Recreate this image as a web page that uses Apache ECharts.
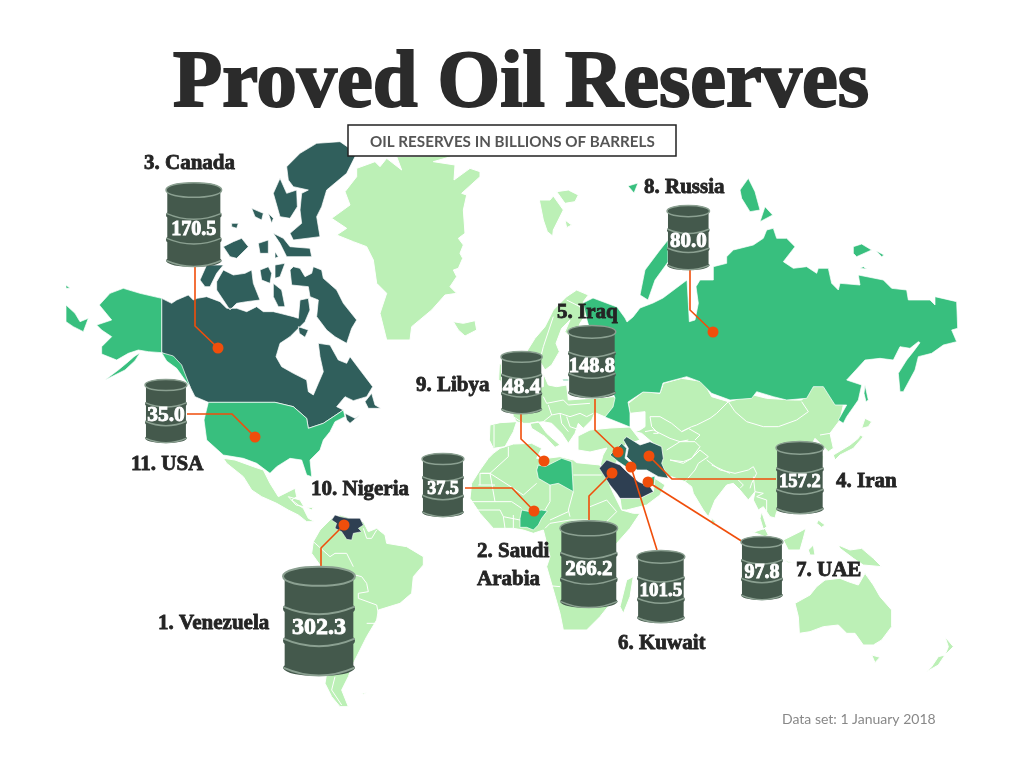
<!DOCTYPE html>
<html><head><meta charset="utf-8">
<style>html,body{margin:0;padding:0;background:#fff}#c{width:1024px;height:771px}</style>
<script src="https://cdn.jsdelivr.net/npm/echarts@6/dist/echarts.min.js"></script>
</head><body><div id="c"></div>
<script>
// ---- chart values ----
const countries = ['Venezuela','Saudi Arabia','Canada','Iran','Iraq','Kuwait','UAE','Russia','Libya','Nigeria','USA'];
const reserves  = [302.3,266.2,170.5,157.2,148.8,101.5,97.8,80.0,48.4,37.5,35.0];
const labelLines = ['1. Venezuela','2. Saudi\nArabia','3. Canada','4. Iran','5. Iraq','6. Kuwait','7. UAE','8. Russia','9. Libya','10. Nigeria','11. USA'];

// ---- layout in map units ----
const barrelCorner = [[283,566],[560,520],[166,182],[776,441],[568,325],[637,550],[741,536],[667,205],[501,351],[422,453],[145,379]];
const barrelHeight = [110,88,85,73,73,73,64,65,63,64,64];
const valueFont    = [24,21,20,18.5,20.5,19,20,21,21.5,18,21.5];
const labelAnchor  = [[158,624],[477,566],[144,164],[836,482],[557,313],[618,644],[796,571],[644,188],[416,386],[311,490],[131,465]];
const leaderStart  = [[321,566],[589,520],[195,267],[776,479],[595,399],[657,550],[743,542],[690,269],[521,414],[465,488],[187,414]];
const leaderElbow  = [[321,548],[589,496],[195,326],[672,479],[595,430],[657,550],[743,542],[690,310],[521,439],[512,488],[232,414]];
const pins         = [[344,525],[612,473],[218,348],[649,456],[618,452],[631,467],[648,482],[713,332],[544,461],[534,511],[255,437]];

// ---- hand traced base map: [originX, originY, "x,y ..." in 3x units] ----
const canadaShapes = [
 [60,130,'305,505 335,520 350,510 385,495 400,510 412,505 440,500 480,515 500,535 530,535 560,545 590,530 610,545 640,545 660,550 700,560 715,565 720,510 745,505 750,540 735,575 720,590 690,620 660,640 648,680 665,710 700,730 740,750 745,785 760,795 775,760 790,725 780,680 775,640 810,645 835,690 860,700 870,680 900,720 938,770 920,800 880,812 855,800 830,830 850,840 820,860 790,880 745,895 740,865 700,830 645,817 445,817 405,800 385,760 360,710 330,680 305,668'],
 [60,130,'855,850 885,865 900,855 870,880 860,870'],
 [60,130,'915,815 935,790 945,825 962,835 925,835'],
 [60,130,'690,420 700,410 720,415 735,440 755,430 760,410 785,420 790,445 830,480 850,520 890,570 875,595 860,640 825,620 800,600 770,560 775,510 750,500 745,470 695,465'],
 [60,130,'470,455 490,420 520,435 555,430 575,420 580,460 600,510 560,515 530,520 510,540 490,510 470,480'],
 [60,130,'420,450 440,405 490,405 470,430 450,470 435,470'],
 [60,130,'600,420 625,410 635,430 630,460 605,450'],
 [60,130,'645,405 675,400 660,440 645,445'],
 [60,130,'640,460 665,480 675,530 655,530 640,500'],
 [60,130,'680,110 720,70 770,40 840,35 890,70 860,130 800,180 785,230 770,260 780,320 700,330 690,310 725,280 720,240 725,190 745,180 700,170 685,150'],
 [60,130,'640,190 660,145 680,190 710,180 712,230 690,265 660,260'],
 [60,130,'640,310 670,325 690,350 750,355 755,380 680,380 660,340'],
 [60,130,'490,350 520,335 545,325 565,350 530,385 510,380'],
 [60,130,'595,340 625,330 625,370 600,370'],
 [60,130,'575,235 610,250 605,270 585,260'],
 [60,130,'625,250 640,265 635,280'],
 [60,130,'515,280 535,280 530,295 515,290'],
 [60,130,'645,365 655,380 645,385'],
 [60,130,'715,590 745,600 735,622 718,610']
];
const usaShapes = [
 [60,130,'445,817 645,817 700,830 740,865 745,895 790,880 820,860 850,840 855,860 825,875 810,905 790,930 780,960 750,990 755,1040 740,1035 725,990 690,985 650,1010 630,1030 590,1000 550,985 490,975 440,930 432,870'],
 [60,130,'305,505 240,490 190,475 150,490 118,525 155,570 110,585 125,600 155,620 125,650 125,672 170,690 205,670 235,660 265,665 305,668'],
 [60,130,'305,668 340,678 365,705 390,770 375,750 350,715 320,693'],
 [60,130,'222,680 240,668 225,692 195,720 135,750 175,720 205,695']
];
const russiaShapes = [
 [680,170,'21,330 25,400 28,455 45,450 55,400 48,350 60,330 100,330 100,290 140,280 140,260 160,240 220,225 250,205 260,180 280,175 290,205 320,205 345,230 310,275 340,295 380,290 410,310 415,295 445,295 455,340 475,360 480,340 540,345 535,315 610,330 635,355 680,360 685,390 750,390 765,405 765,380 830,395 833,475 815,480 830,515 790,525 755,550 735,555 715,560 705,600 670,665 660,665 655,610 680,570 700,545 720,518 715,515 690,535 660,530 640,570 600,565 555,570 500,630 545,645 535,690 500,740 490,760 475,750 500,705 465,705 430,650 400,650 380,685 320,690 280,680 230,665 215,685 150,690 95,670 60,635 20,620 -51,639 -60,669 -111,666 -156,696 -150,729 -150,771 -225,741 -201,711 -195,684 -240,570 -270,480 -279,450 -291,399 -261,384 -189,411 -165,444 -159,456 -141,441 -120,414 -81,399 -51,384'],
 [680,170,'205,25 225,65 240,120 210,125 185,85 180,60'],
 [680,170,'255,110 278,135 240,155'],
 [680,170,'520,230 545,222 575,240 530,260 520,250'],
 [680,170,'588,242 612,255 605,260'],
 [680,170,'540,295 560,297 550,290'],
 [680,170,'555,645 565,690 558,695 552,670'],
 [0,0,'640,295 645,270 660,250 668,240 668,262 655,280 648,300',1],
 [0,0,'628,186 638,183 634,193',1],
 [60,130,'18,525 45,550 60,575 85,565 70,605 40,590 18,575'],
 [60,130,'18,465 30,475 18,475'],
 [480,290,'248,268 265,268 265,272 250,272']
];
const venezuelaShapes = [[220,450,'335,210 345,195 360,200 385,205 420,205 430,225 415,235 425,245 400,250 395,270 380,268 365,245 345,235 350,220']];
const saudiShapes = [[590,420,'28,145 50,120 90,135 110,155 145,185 180,200 190,215 150,235 90,235 80,220 60,195']];
const iraqShapes  = [[590,420,'60,105 95,70 110,85 105,115 130,135 115,145 85,125']];
const iranShapes  = [[590,420,'100,60 110,50 150,75 180,65 215,80 220,115 215,130 235,175 205,170 170,150 140,150 125,125 110,110 115,85']];
const kuwaitShapes= [[590,420,'118,133 132,133 135,148 122,148']];
const uaeShapes   = [[590,420,'160,180 195,168 192,195 162,197']];
const libyaShapes = [[470,440,'205,75 225,80 275,55 305,65 310,155 265,130 240,135 205,115 200,90']];
const nigeriaShapes=[[470,440,'155,210 180,215 215,210 232,213 215,235 205,255 190,270 170,262 150,262 150,235']];
const restShapes = [
 [330,130,'80,115 135,95 150,110 170,85 215,120 200,80 380,75 310,95 375,105 372,150 420,115 450,125 450,140 395,190 410,195 400,240 405,310 385,325 400,345 390,370 398,385 385,415 370,420 380,440 360,470 380,490 345,495 305,540 245,590 240,630 170,630 150,550 170,490 140,460 130,390 110,350 70,335 20,315 50,295 5,265 60,225 45,185 80,140'],
 [330,130,'370,575 400,580 435,572 440,600 405,618 385,600'],
 [330,130,'628,210 660,210 670,198 700,240 670,300 668,318 652,305 640,270'],
 [330,130,'680,185 715,180 745,195 735,215 705,220'],
 [330,130,'705,270 725,285 710,293'],
 [220,450,'10,25 45,30 100,50 130,60 150,100 175,140 205,125 225,115 230,140 215,150 235,165 250,175 265,205 285,215 260,215 235,195 205,180 170,160 125,140 95,120 70,80 45,60 20,40'],
 [220,450,'205,140 240,150 252,170 228,165'],
 [220,450,'258,172 280,172 275,180'],
 [220,450,'280,275 300,240 335,205 360,195 430,215 445,245 470,235 495,255 500,280 560,290 610,320 610,345 580,380 575,430 540,460 475,480 470,510 440,560 420,600 400,640 385,680 365,720 385,770 360,770 335,740 315,700 320,670 300,600 290,450 310,380 300,345 275,310'],
 [220,450,'425,730 440,728 430,733'],
 [400,280,'280,520 300,505 340,492 395,490 425,505 410,535 440,535 480,530 520,540 530,548 600,555 610,570 640,640 665,690 700,700 720,700 690,745 650,790 610,830 640,900 640,960 600,1010 560,1050 490,1050 480,1000 460,930 440,860 450,830 430,750 400,760 370,750 340,745 280,745 240,700 210,655 215,610 240,570 265,535'],
 [400,280,'680,900 700,890 690,950 670,1000 660,980'],
 [480,290,'140,185 165,145 195,110 220,60 260,20 290,0 325,15 310,35 325,60 310,85 300,100 290,130 275,145 255,125 270,90 245,115 228,160 238,185 215,225 195,240 180,215 165,205'],
 [480,290,'190,250 205,285 230,290 260,285 265,330 400,320 430,340 430,380 385,385 345,368 335,390 310,415 295,400 285,430 265,460 245,430 215,400 190,395 150,400 125,400 110,395 100,380 90,320 130,300 190,290'],
 [480,290,'30,405 60,398 110,395 100,425 75,470 40,475 28,450'],
 [480,290,'150,400 175,395 200,430 240,465 225,472 195,440 155,415'],
 [400,280,'298,255 304,250 305,305 296,300'],
 [0,0,'578,436 590,430 610,428 630,427 640,440 625,445 615,465 600,466 603,455 607,448 590,452 578,450',1],
 [590,420,'90,235 150,235 190,215 195,175 225,195 210,225 170,255 110,270 95,270'],
 [620,370,'25,100 70,65 120,70 130,40 185,25 250,35 275,80 325,95 400,75 440,85 520,90 545,90 580,50 610,45 640,90 670,105 660,150 630,190 640,235 625,245 605,225 585,205 580,215 600,240 610,260 605,300 600,350 590,400 540,420 470,425 465,444 450,440 440,425 430,410 415,420 400,390 405,365 385,390 360,360 340,340 320,345 285,390 265,440 250,420 220,370 215,350 195,335 155,320 135,320 100,220 65,190 45,185 60,180 75,170 75,125 30,130'],
 [620,370,'425,425 440,470 430,478 420,445'],
 [620,370,'735,145 755,155 745,170 725,175'],
 [620,370,'720,195 730,200 700,235 660,255 645,270 640,255 690,225 715,205'],
 [620,370,'275,445 286,455 280,468 272,458'],
 [700,470,'150,183 165,185 195,175 205,195 195,200'],
 [700,470,'250,210 300,185 318,175 310,205 300,240 265,240'],
 [700,470,'325,240 340,225 345,255 330,255'],
 [700,470,'355,150 375,165 365,172 350,160'],
 [700,470,'415,225 450,240 485,235 520,265 545,290 490,285 460,265 420,235'],
 [700,470,'245,268 285,280 265,278'],
 [700,470,'285,400 330,375 350,350 375,330 420,325 445,335 475,345 495,310 520,345 540,380 575,420 575,470 545,510 520,525 490,525 465,490 440,490 415,465 370,470 330,485 298,490 295,440'],
 [700,470,'515,555 540,562 525,578'],
 [700,470,'735,555 715,585 680,605 695,590 715,560'],
 [700,470,'735,500 760,530 735,555 745,530']
];
// white country borders drawn over the light land
const borderLines = [
 [220,450,'430,235 440,265 455,265 470,240'],[220,450,'280,275 330,320 345,310 380,310 400,350'],[220,450,'405,375 425,380 440,400 445,425 415,430 415,445 470,465 475,490'],[220,450,'440,520 465,520 470,545'],[220,450,'345,680 335,720 365,765'],
 [470,440,'60,100 130,145 160,165 200,130'],[470,440,'240,135 240,185 225,210'],[470,440,'310,105 395,105'],[470,440,'310,155 295,210 300,230'],[470,440,'240,240 295,215'],[470,440,'35,100 60,100 75,185 125,185 155,205'],[470,440,'25,135 75,135'],[470,440,'0,185 75,185'],[470,440,'0,210 90,210 100,230 150,240'],[470,440,'100,230 105,265'],[470,440,'130,225 130,265'],[470,440,'225,265 240,250 300,240 360,240'],[470,440,'215,435 270,440'],[470,440,'115,20 115,50 60,100 30,100 30,135'],[470,440,'360,200 410,180 440,215 405,250'],
 [480,290,'190,320 200,340 250,330 265,345 330,340'],[480,290,'205,345 215,375 240,370 270,380 300,370 320,380 340,370'],[480,290,'215,375 190,395'],[480,290,'260,380 270,410 300,420'],[480,290,'240,370 245,400 265,425'],[480,290,'100,380 130,400'],[480,290,'42,405 42,472'],[480,290,'220,80 190,170 180,210'],[480,290,'260,30 300,50 310,85'],
 [620,370,'325,95 345,125 380,155 430,170 475,170 530,150 565,125 545,95'],[620,370,'325,95 290,130 270,145 230,165 215,170 185,185 155,160 120,140 90,140 95,170 115,190 100,190'],[620,370,'75,185 100,180 150,205 180,215 205,210'],[620,370,'185,185 205,175 240,195 225,210'],[620,370,'140,240 180,215 225,215 240,230 215,265 190,275 150,270'],[620,370,'150,270 190,280 215,265 240,240 265,260 235,280 225,300 195,335'],[620,370,'260,270 300,300 345,310 385,300 400,290 410,310 395,340 390,355'],[620,370,'275,285 330,310'],[620,370,'355,330 370,345 360,355'],[620,370,'400,320 405,365 430,370'],[620,370,'430,370 410,380 440,390 440,425'],[620,370,'600,195 630,190']
];

// ---- helpers ----
const ring = ([ox,oy,s,k=3]) => s.trim().split(/\s+/).map(p => { const [x,y]=p.split(',').map(Number); return [ox+x/k, oy+y/k]; });
const feat = (name,shapes) => ({type:'Feature',properties:{name},geometry:{type:'MultiPolygon',coordinates:shapes.map(s=>[ring(s)])}});
const countryShapes = {'Venezuela':venezuelaShapes,'Saudi Arabia':saudiShapes,'Canada':canadaShapes,'Iran':iranShapes,'Iraq':iraqShapes,'Kuwait':kuwaitShapes,'UAE':uaeShapes,'Russia':russiaShapes,'Libya':libyaShapes,'Nigeria':nigeriaShapes,'USA':usaShapes};
const geoJson = {type:'FeatureCollection',features:[feat('Rest',restShapes)].concat(countries.map(c=>feat(c,countryShapes[c])))};
echarts.registerMap('oilWorld', geoJson);

const tier = v => v>=200 ? '#2e3f52' : v>=155 ? '#305f5c' : v>=120 ? '#2f7a66' : '#38bf7e';
const LAND = '#bcf0b6', PIN = '#f04e0b', BODY = '#44594c', RIM = '#8ba091', INK = '#242424';
const SERIF = '"Liberation Serif"';

// barrel template in a 216 x 330 box; the leading moves pin the bounding box
const box = 'M0,0 M216,330 ';
const barrelBody = box+'M5,31 L5,118 Q0,122 0,128 Q0,134 5,138 L5,214 Q0,218 0,224 Q0,230 5,234 L5,298 Q0,302 0,307 Q14,330 108,330 Q202,330 216,307 Q216,302 211,298 L211,234 Q216,230 216,224 Q216,218 211,214 L211,138 Q216,134 216,128 Q216,122 211,118 L211,31 Q211,2 108,2 Q5,2 5,31 Z';
const barrelTop  = box+'M0,31 C0,-7 216,-7 216,31 C216,69 0,69 0,31 Z';
const hoopA = box+'M1,122 Q108,168 215,122';
const hoopB = box+'M1,218 Q108,264 215,218';
const hoopC = box+'M1,305 Q108,352 215,305';

function renderBarrel(params, api){
  const i = params.dataIndex;
  const [x,y] = api.coord([api.value(0),api.value(1)]);
  const h = barrelHeight[i], w = h*216/330;
  const rect = {x,y,width:w,height:h};
  const sw = h>100 ? 2 : 1.5;
  const part = (d,fill,stroke) => ({type:'path',shape:Object.assign({pathData:d,layout:'cover'},rect),style:{fill:fill||'none',stroke:stroke||'none',lineWidth:sw}});
  return {type:'group',children:[
    part(barrelBody,BODY,null),
    part(barrelTop,BODY,RIM),
    part(hoopA,null,RIM),part(hoopB,null,RIM),part(hoopC,null,RIM),
    {type:'text',style:{text:reserves[i].toFixed(1),x:x+w/2,y:y+h*0.555+1,align:'center',verticalAlign:'middle',fill:'#fff',stroke:'#fff',lineWidth:0.9,font:'bold '+valueFont[i]+'px '+SERIF}},
    {type:'text',style:{text:labelLines[i],x:labelAnchor[i][0],y:labelAnchor[i][1],align:'left',verticalAlign:'middle',fill:INK,stroke:INK,lineWidth:0.8,lineHeight:28,font:'bold 21px '+SERIF}}
  ]};
}

const chart = echarts.init(document.getElementById('c'),null,{renderer:'canvas'});
chart.setOption({
  animation:false,
  backgroundColor:'#fff',
  title:[
    {text:'Proved Oil Reserves',left:173,top:45,padding:0,textStyle:{fontFamily:SERIF,fontWeight:'bold',fontSize:80.5,color:'#2b2b2b',textBorderColor:'#2b2b2b',textBorderWidth:2}},
    {text:'OIL RESERVES IN BILLIONS OF BARRELS',left:348,top:125,padding:[10,22,6,22],backgroundColor:'#fff',borderColor:'#222',borderWidth:1.5,textStyle:{fontFamily:'Lato',fontWeight:'bold',fontSize:15.2,color:'#555'}},
    {text:'Data set: 1 January 2018',left:782,top:712,padding:0,textStyle:{fontFamily:'Lato',fontWeight:'normal',fontSize:14,color:'#888'}}
  ],
  geo:{
    map:'oilWorld',silent:true,roam:false,z:0,
    left:0,top:0,width:1024,height:771,
    projection:{project:p=>p,unproject:p=>p},
    boundingCoords:[[0,0],[1024,771]],
    itemStyle:{areaColor:LAND,borderColor:'#fff',borderWidth:1},
    label:{show:false},
    regions:countries.map((c,i)=>({name:c,itemStyle:{areaColor:tier(reserves[i]),borderColor:'#fff',borderWidth:c==='Venezuela'||c==='Saudi Arabia'?0.5:0.7}}))
  },
  series:[
    {type:'lines',coordinateSystem:'geo',polyline:true,silent:true,z:1,lineStyle:{color:'#fff',width:1,opacity:1},effect:{show:false},
     data:borderLines.map(b=>({coords:ring(b)}))},
    {type:'lines',coordinateSystem:'geo',polyline:true,silent:true,z:2,lineStyle:{color:PIN,width:1.6,opacity:1},
     data:countries.map((c,i)=>({name:c,coords:[leaderStart[i],leaderElbow[i],pins[i]]}))},
    {type:'scatter',coordinateSystem:'geo',silent:true,z:3,symbol:'circle',symbolSize:11,itemStyle:{color:PIN,opacity:1},
     data:countries.map((c,i)=>({name:c,value:pins[i]}))},
    {type:'custom',coordinateSystem:'geo',silent:true,z:4,renderItem:renderBarrel,
     data:countries.map((c,i)=>({name:c,value:[barrelCorner[i][0],barrelCorner[i][1],reserves[i]]}))}
  ]
});
</script></body></html>
